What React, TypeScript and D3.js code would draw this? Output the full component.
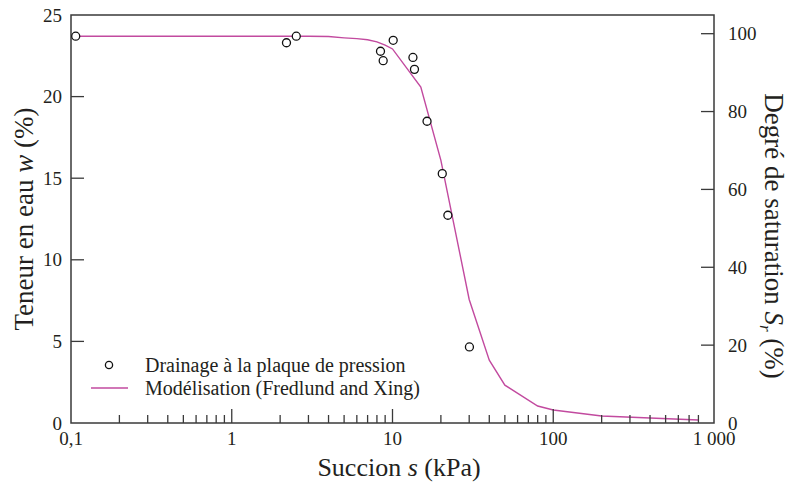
import React, { useEffect, useRef } from "react";
import * as d3 from "d3";

const pointSuction = [0.107, 2.19, 2.52, 8.42, 8.75, 10.1, 13.4, 13.7, 16.4, 20.4, 22.1, 30.1];
const pointWater = [23.7, 23.3, 23.7, 22.78, 22.2, 23.45, 22.4, 21.67, 18.49, 15.28, 12.73, 4.66];

const modelSuction = [0.1, 1, 2, 3, 4, 5, 6, 7, 8, 9, 10, 15, 20, 30, 40, 50, 80, 100, 200, 800];
const modelWater = [23.7, 23.7, 23.7, 23.7, 23.68, 23.6, 23.55, 23.48, 23.35, 23.15, 22.92, 20.58, 16.09, 7.57, 3.85, 2.32, 1.04, 0.8, 0.43, 0.18];

const leftTicks = [0, 5, 10, 15, 20, 25];
const rightTicks = [0, 20, 40, 60, 80, 100];
const majorX = [0.1, 1, 10, 100, 1000];
const majorXLabels = ["0,1", "1", "10", "100", "1 000"];
const minorX = [
  0.2, 0.3, 0.4, 0.5, 0.6, 0.7, 0.8, 0.9,
  2, 3, 4, 5, 6, 7, 8, 9,
  20, 30, 40, 50, 60, 70, 80, 90,
  200, 300, 400, 500, 600, 700, 800,
];
const innerMajor = [1, 10, 100];

const W = 787, H = 485;
const L = 71, R = 714, T = 15, B = 423;
const TXT = "#231f20";
const AX = "#3a3a3a";
const MAG = "#c24a9f";
const FAM = '"Liberation Serif", Tinos, "Times New Roman", serif';

export default function App() {
  const ref = useRef<SVGSVGElement>(null);
  const x = d3.scaleLog().domain([0.1, 1000]).range([L, R]);
  const y = d3.scaleLinear().domain([0, 25]).range([B, T]);
  const y2 = d3.scaleLinear().domain([0, 104.8]).range([B, T]);
  const line = d3.line<number>()
    .x((_, i) => x(modelSuction[i]))
    .y((d) => y(d));

  useEffect(() => {
    if (!ref.current) return;
    const sel = d3.select(ref.current);
    sel.style("font-family", FAM, "important");
    sel.selectAll("text, tspan").style("font-family", FAM, "important");
  }, []);

  return (
    <svg ref={ref} width={W} height={H} style={{ position: "absolute", left: 0, top: 0 }}>
      <rect x={0} y={0} width={W} height={H} fill="#fff" />
      <path d={line(modelWater) || ""} fill="none" stroke={MAG} strokeWidth={1.4} />
      <rect x={L} y={T} width={R - L} height={B - T} fill="none" stroke={AX} strokeWidth={1.5} />
      {leftTicks.map((t) => (
        <g key={"l" + t}>
          {t > 0 && t < 25 && <line x1={L} x2={L + 13} y1={y(t)} y2={y(t)} stroke={AX} strokeWidth={1.3} />}
          <text x={62} y={y(t)} dy="0.35em" textAnchor="end" fontSize={19} fill={TXT}>{t}</text>
        </g>
      ))}
      {rightTicks.map((t) => (
        <g key={"r" + t}>
          {t > 0 && <line x1={R - 13} x2={R} y1={y2(t)} y2={y2(t)} stroke={AX} strokeWidth={1.3} />}
          <text x={728} y={y2(t)} dy="0.35em" textAnchor="start" fontSize={19} fill={TXT}>{t}</text>
        </g>
      ))}
      {minorX.map((t) => (
        <line key={"m" + t} x1={x(t)} x2={x(t)} y1={B} y2={B - 8} stroke={AX} strokeWidth={1.3} />
      ))}
      {innerMajor.map((t) => (
        <line key={"M" + t} x1={x(t)} x2={x(t)} y1={B} y2={B - 14} stroke={AX} strokeWidth={1.3} />
      ))}
      {majorX.map((t, i) => (
        <text key={"xl" + t} x={x(t)} y={445} textAnchor="middle" fontSize={19} fill={TXT}>{majorXLabels[i]}</text>
      ))}
      {pointSuction.map((s, i) => (
        <circle key={"p" + i} cx={x(s)} cy={y(pointWater[i])} r={4} fill="#fff" stroke="#111" strokeWidth={1.3} />
      ))}
      <circle cx={109} cy={365} r={3.6} fill="#fff" stroke="#111" strokeWidth={1.3} />
      <text x={145} y={372} fontSize={20} fill={TXT}>Drainage à la plaque de pression</text>
      <line x1={91} x2={128} y1={388} y2={388} stroke={MAG} strokeWidth={1.4} />
      <text x={145} y={395} fontSize={20} fill={TXT}>Modélisation (Fredlund and Xing)</text>
      <text x={399} y={476} textAnchor="middle" fontSize={26} fill={TXT}>
        Succion<tspan fontStyle="italic"> s</tspan> (kPa)
      </text>
      <text transform={`translate(33,${(T + B) / 2}) rotate(-90)`} textAnchor="middle" fontSize={27} fill={TXT}>
        Teneur en eau <tspan fontStyle="italic">w</tspan> (%)
      </text>
      <text transform={`translate(765,236) rotate(90)`} textAnchor="middle" fontSize={27} fill={TXT}>
        Degré de saturation <tspan fontStyle="italic">S</tspan><tspan fontStyle="italic" fontSize={17} dy="5">r</tspan><tspan dy="-5"> (%)</tspan>
      </text>
    </svg>
  );
}
